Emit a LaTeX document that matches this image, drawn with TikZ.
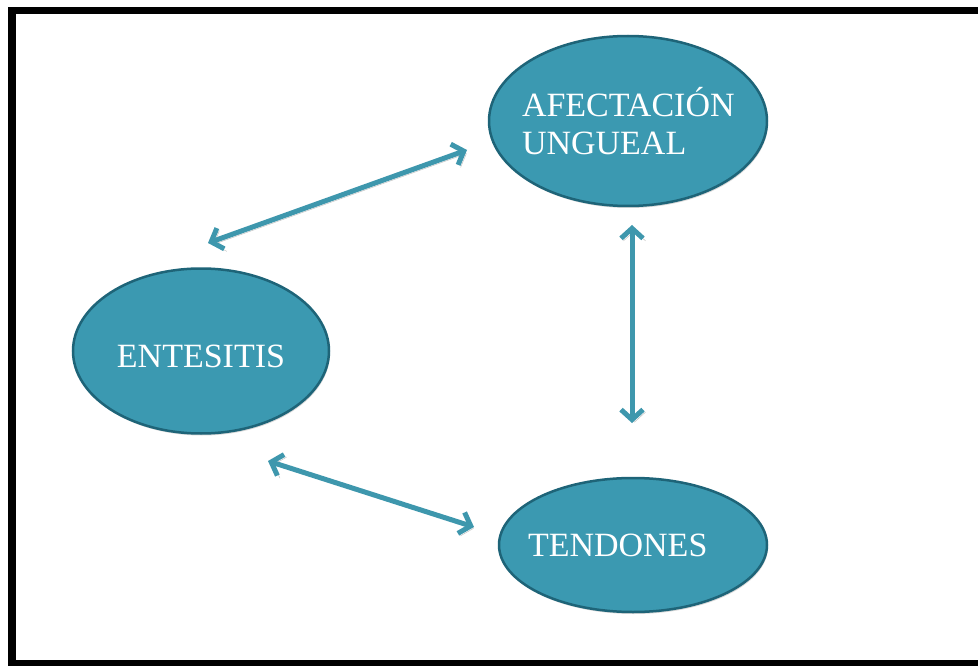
\documentclass[tikz,border=0pt]{standalone}
\usepackage{fontspec}
\setmainfont{Liberation Serif}
\usetikzlibrary{shapes.geometric,arrows.meta,shadows}
\definecolor{nodeteal}{RGB}{59,153,177}
\definecolor{rimteal}{RGB}{30,100,120}
\definecolor{arrowteal}{RGB}{62,151,173}

\begin{document}
\begin{tikzpicture}[x=1pt,y=-1pt,
  blob/.style={ellipse, fill=nodeteal, draw=rimteal, line width=2.5pt, inner sep=0pt,
    drop shadow={shadow xshift=1pt,shadow yshift=-2pt,opacity=0.3}},
  blobtext/.style={text=white, inner sep=0pt, font=\fontsize{34}{38}\selectfont},
  link/.style={line width=5pt, arrowteal,
    {Straight Barb[length=10pt,width=22pt]}-{Straight Barb[length=10pt,width=22pt]},
    preaction={draw=gray!55, transform canvas={shift={(2.5,2.5)}}}}]
\useasboundingbox (0,0) rectangle (978,666);
\fill[white] (0,0) rectangle (978,666);
%FRAME
\fill[black] (8,7) rectangle (16,666);
\fill[black] (8,7) rectangle (978,14);
\fill[black] (8,660) rectangle (978,666);
%NODES
\node[blob, minimum width=278pt, minimum height=170pt] (afe) at (628,121) {};
\node[blob, minimum width=256pt, minimum height=165pt] (ent) at (201,351) {};
\node[blob, minimum width=268pt, minimum height=134pt] (ten) at (633,545) {};
\node[blobtext, text width=222pt, align=left] (afeText) at ([xshift=5pt]afe.center) {AFECTACIÓN\\UNGUEAL};
\node[blobtext] (entText) at ([yshift=-5pt]ent.center) {ENTESITIS};
\node[blobtext, text width=210pt, align=left] (tenText) at (ten.center) {TENDONES};
%ARROWS
\coordinate (entTop) at (208,243);
\coordinate (afeLeft) at (467,150);
\coordinate (afeBot) at (632,225);
\coordinate (tenTop) at (632,423);
\coordinate (entBot) at (268,461);
\coordinate (tenLeft) at (474,527);
\draw[link] (entTop) -- (afeLeft);
\draw[link] (afeBot) -- (tenTop);
\draw[link] (entBot) -- (tenLeft);
\end{tikzpicture}
\end{document}
